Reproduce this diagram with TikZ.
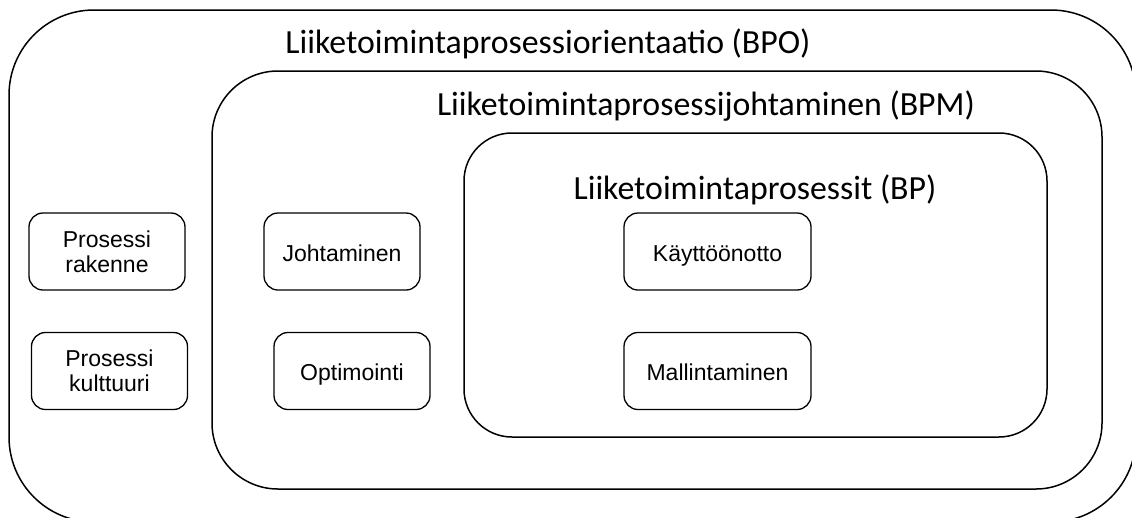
\documentclass[tikz,border=0pt]{standalone}
\usepackage{fontspec}
\setmainfont{Liberation Sans}
\newfontfamily\titlefont{Carlito}
\begin{document}
\begin{tikzpicture}[x=1pt,y=-1pt,
  frame/.style={draw=black,line width=1.5pt},
  itembox/.style={draw=black,line width=1.3pt,rounded corners=14pt,
    minimum width=#1,minimum height=77pt,inner sep=0pt,align=center,
    font=\fontsize{23}{25}\selectfont},
  itembox/.default=156pt,
  oneline/.style={text height=23.5pt,text depth=4pt},
  heading/.style={anchor=base,inner sep=0pt,font=\titlefont\fontsize{33.8}{40}\selectfont}]
  \useasboundingbox (0,0) rectangle (1132,517);
  % nested process levels
  \draw[frame,rounded corners=85pt] (9,10) rectangle (1136,522);
  \draw[frame,rounded corners=66pt] (212,71) rectangle (1102,489);
  \draw[frame,rounded corners=48pt] (464,133) rectangle (1047,437);
  % level headings
  \node[heading] (bpo) at (548,53) {Liiketoimintaprosessiorientaatio (BPO)};
  \node[heading] (bpm) at (706,115) {Liiketoimintaprosessijohtaminen (BPM)};
  \node[heading] (bp) at (755,199) {Liiketoimintaprosessit (BP)};
  % items of each level
  \node[itembox] (rak) at (107,251.5) {Prosessi\\rakenne};
  \node[itembox] (kul) at (109.5,371) {Prosessi\\kulttuuri};
  \node[itembox,oneline] (joh) at (342,251.5) {Johtaminen};
  \node[itembox,oneline] (opt) at (352,371) {Optimointi};
  \node[itembox=187pt,oneline] (kay) at (717.5,251.5) {Käyttöönotto};
  \node[itembox=187pt,oneline] (mal) at (717.5,371) {Mallintaminen};
\end{tikzpicture}
\end{document}
